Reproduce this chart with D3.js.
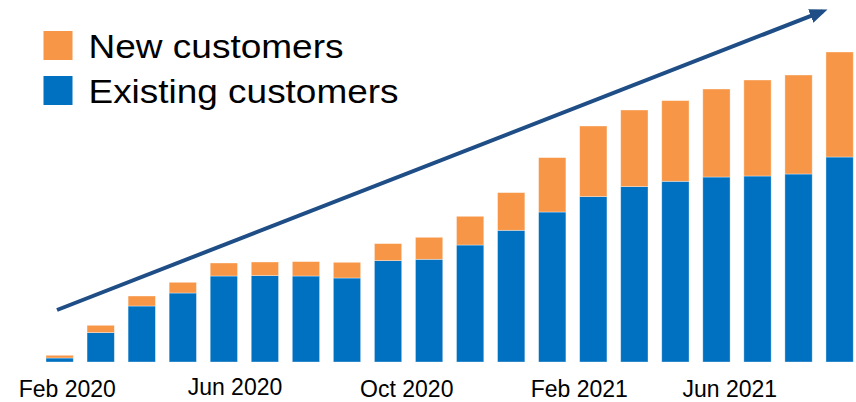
<!DOCTYPE html>
<html>
<head>
<meta charset="utf-8">
<script src="https://cdn.jsdelivr.net/npm/d3@7"></script>
<style>
  body { margin: 0; background: #fff; }
  text { font-family: "Liberation Sans", Arial, sans-serif; fill: #000; }
</style>
</head>
<body>
<div id="graph"></div>
<script>
const width = 856,
    height = 402,
    base = 362, // bar baseline
    top_y = 42;

// months, Feb 2020 .. Sep 2021
const months = ["Feb 2020", "Mar 2020", "Apr 2020", "May 2020", "Jun 2020", "Jul 2020",
  "Aug 2020", "Sep 2020", "Oct 2020", "Nov 2020", "Dec 2020", "Jan 2021", "Feb 2021",
  "Mar 2021", "Apr 2021", "May 2021", "Jun 2021", "Jul 2021", "Aug 2021", "Sep 2021"];
const existing = [4, 29.4, 56, 69, 86, 86.4, 86, 84, 101.4, 102.7,
  117, 131.7, 150, 165.4, 175.4, 180.7, 185, 186, 188, 205];
const newCust = [2.7, 7.3, 10, 10.7, 13, 13.6, 14.4, 15.7, 17, 22,
  28.7, 37.7, 54.4, 70.6, 76.6, 80.7, 88, 96, 99, 105];
const tickLabels = ["Feb 2020", "Jun 2020", "Oct 2020", "Feb 2021", "Jun 2021"];
const seriesNames = ["New customers", "Existing customers"];
const colors = {existing: "#0070C0", newCust: "#F79646"};

// label nudges (labels were placed by hand in the original)
const labelDx = [7.6, 11.1, 18.7, 27, 13.3];
const labelY = [397, 395, 397, 397, 397];

const x = d3.scaleBand()
  .domain(months)
  .range([32.25, 867])
  .padding(0.335);

const y = d3.scaleLinear()
  .domain([0, 320])
  .range([base, top_y]);

const svg = d3.select("#graph")
    .append("svg")
    .attr("width", width)
    .attr("height", height);

const data = months.map(function (m, i) {
  return {month: m, existing: existing[i], newCust: newCust[i]};
});
const stacked = d3.stack().keys(["existing", "newCust"])(data);

svg.selectAll("g.series")
  .data(stacked)
  .enter()
  .append("g")
  .attr("class", "series")
  .attr("fill", function (d) { return colors[d.key]; })
  .selectAll("rect")
  .data(function (d) { return d; })
  .enter()
  .append("rect")
  .attr("x", function (d) { return x(d.data.month); })
  .attr("width", x.bandwidth())
  .attr("y", function (d) { return y(d[1]); })
  .attr("height", function (d) { return y(d[0]) - y(d[1]); })
  .attr("stroke", "#fff")
  .attr("stroke-opacity", 0.45)
  .attr("stroke-width", 0.8);

// x axis, labels only
const xAxis = d3.axisBottom(x)
  .tickValues(tickLabels)
  .tickSize(0);

const gx = svg.append("g")
  .call(xAxis);
gx.select(".domain").remove();
gx.selectAll(".tick text")
  .attr("y", function (d, i) { return labelY[i]; })
  .attr("dy", 0)
  .attr("dx", function (d, i) { return labelDx[i]; })
  .style("font-size", "23px")
  .attr("fill", "#000");

// trend arrow
svg.append("defs").append("marker")
  .attr("id", "head")
  .attr("viewBox", "0 0 10 8")
  .attr("refX", 7)
  .attr("refY", 4)
  .attr("markerWidth", 4.5)
  .attr("markerHeight", 4)
  .attr("orient", "auto")
  .attr("markerUnits", "strokeWidth")
  .append("path")
  .attr("d", "M0,0 L10,4 L0,8 Z")
  .attr("fill", "#1F4E86");

svg.append("line")
  .attr("x1", 57)
  .attr("y1", 310)
  .attr("x2", 822.5)
  .attr("y2", 11.4)
  .attr("stroke", "#1F4E86")
  .attr("stroke-width", 4)
  .attr("marker-end", "url(#head)");

// legend
const legend = svg.append("g");
const legendColors = [colors.newCust, colors.existing];
const legendWidths = [255, 310];
legend.selectAll("rect")
  .data(seriesNames)
  .enter()
  .append("rect")
  .attr("x", 43.5)
  .attr("y", function (d, i) { return 31 + i * 45; })
  .attr("width", 29)
  .attr("height", 29)
  .attr("fill", function (d, i) { return legendColors[i]; });
legend.selectAll("text")
  .data(seriesNames)
  .enter()
  .append("text")
  .attr("x", 88.5)
  .attr("y", function (d, i) { return 58.3 + i * 45; })
  .attr("textLength", function (d, i) { return legendWidths[i]; })
  .attr("lengthAdjust", "spacingAndGlyphs")
  .style("font-size", "33.5px")
  .text(function (d) { return d; });
</script>
</body>
</html>
